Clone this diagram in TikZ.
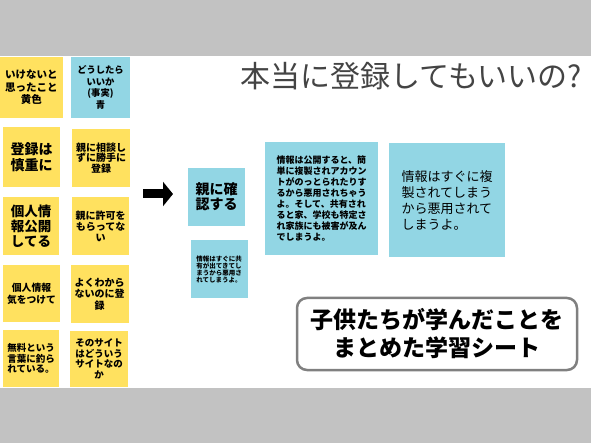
\documentclass[tikz,border=0pt]{standalone}
\usepackage{fontspec}
\setmainfont{Noto Sans CJK JP}
\usetikzlibrary{arrows.meta}
\definecolor{noteyellow}{RGB}{255,225,95}
\definecolor{noteblue}{RGB}{146,214,228}
\definecolor{bandgray}{RGB}{194,194,194}
\definecolor{titlegray}{RGB}{68,68,68}
\newcommand{\fsz}[2]{\fontsize{#1}{#2}\selectfont}
\tikzset{
  stick/.style={fill=noteyellow,inner sep=0pt,align=center,minimum width=57pt,minimum height=58pt},
  stickblue/.style={stick,fill=noteblue},
  bigarrow/.style={line width=9pt,-{Triangle[length=10pt,width=24pt]}}
}
\begin{document}
\begin{tikzpicture}[x=1pt,y=-1pt]
\useasboundingbox (0,0) rectangle (591,443);
\fill[white] (0,0) rectangle (591,443);
\fill[bandgray] (0,0) rectangle (591,56);
\fill[bandgray] (0,388) rectangle (591,443);
\node[stick,minimum width=63pt,minimum height=61pt,font=\fsz{10.5}{12.5}\bfseries] (y1) at (31.5,87.5) {いけないと\\思ったこと\\黄色};
\node[stick,minimum height=60pt,font=\fsz{14}{15.5}\bfseries] (y2) at (31.5,157) {登録は\\慎重に};
\node[stick,minimum width=56pt,font=\fsz{13.5}{15}\bfseries] (y3) at (31,226) {個人情\\報公開\\してる};
\node[stick,minimum height=57pt,font=\fsz{9.8}{12}\bfseries] (y4) at (31.5,293.5) {個人情報\\気をつけて};
\node[stick,minimum width=56pt,minimum height=57pt,font=\fsz{9.5}{10.7}\bfseries] (y5) at (31,358.5) {無料という\\言葉に釣ら\\れている。};
\node[stickblue,minimum width=59pt,minimum height=61pt,font=\fsz{9.3}{11.7}\bfseries] (b1) at (100.5,87.5) {どうしたら\\いいか\\(事実)\\青};
\node[stick,minimum width=58pt,font=\fsz{10}{10.5}\bfseries] (t2) at (101,158) {親に相談し\\ずに勝手に\\登録};
\node[stick,font=\fsz{10}{11}\bfseries] (t3) at (100.5,226) {親に許可を\\もらってな\\い};
\node[stick,minimum width=58pt,font=\fsz{10}{11.5}\bfseries] (t4) at (99.5,294) {よくわから\\ないのに登\\録};
\node[stick,minimum width=58pt,minimum height=56pt,font=\fsz{9.5}{10.5}\bfseries] (t5) at (99,359) {そのサイト\\はどういう\\サイトなの\\か};
\coordinate (arrS) at (143,194);
\coordinate (arrE) at (173,194);
\draw[bigarrow] (arrS) -- (arrE);
\node[stickblue,font=\fsz{14}{15}\bfseries] (chk) at (216.5,197) {親に確\\認する};
\node[stickblue,align=left,font=\fsz{6.5}{6.9}\bfseries] (sml) at (219,269.5) {情報はすぐに共\\有が出てきてし\\まうから悪用さ\\れてしまうよ。};
\node[stickblue,align=left,minimum width=113pt,minimum height=113pt,font=\fsz{9}{10.9}\bfseries] (infoA) at (321.5,198.5) {情報は公開すると、簡\\単に複製されアカウン\\トがのっとられたりす\\るから悪用されちゃう\\よ。そして、共有され\\ると家、学校も特定さ\\れ家族にも被害が及ん\\でしまうよ。};
\node[stickblue,align=left,minimum width=116pt,minimum height=114pt,font=\fsz{13}{16}] (infoB) at (447,200) {情報はすぐに複\\製されてしまう\\から悪用されて\\しまうよ。};
\node[text=titlegray,font=\fsz{30}{34}] (ttl) at (411,76.5) {本当に登録してもいいの?};
\node[draw=gray,line width=2.5pt,rounded corners=10pt,fill=white,align=center,minimum width=280pt,minimum height=72pt,font=\fsz{23}{28}\bfseries] (sum) at (437,334) {子供たちが学んだことを\\まとめた学習シート};
\end{tikzpicture}
\end{document}
